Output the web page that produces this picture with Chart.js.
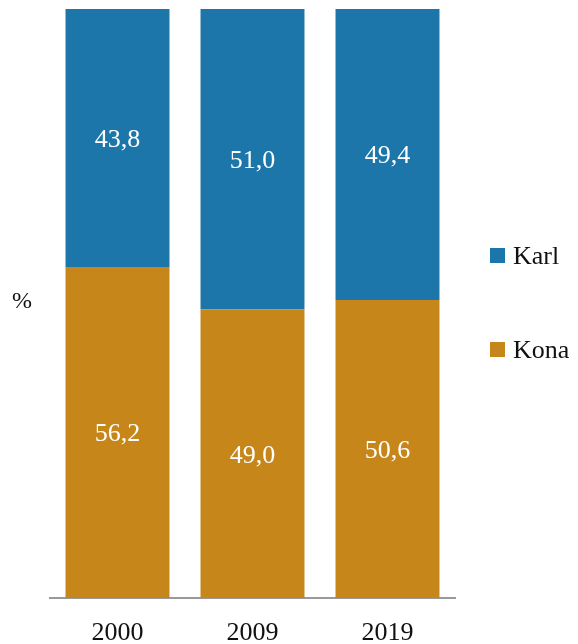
<!DOCTYPE html>
<html>
<head>
<meta charset="utf-8">
<script src="https://cdn.jsdelivr.net/npm/chart.js@4"></script>
<style>
    html, body { margin: 0; padding: 0; background: #fff; }
    #wrap { position: relative; width: 578px; height: 644px; }
    .legend-item { position: absolute; left: 490px; font: 26px 'Liberation Serif', serif; color: #111; white-space: nowrap; }
    .legend-item span.box { display: inline-block; width: 15px; height: 15px; margin-right: 8px; vertical-align: 1px; }
</style>
</head>
<body>
<div id="wrap">
    <canvas id="chart" width="578" height="644"></canvas>
    <div class="legend-item" style="top: 241px;"><span class="box" style="background:#1c76a9"></span>Karl</div>
    <div class="legend-item" style="top: 335px;"><span class="box" style="background:#c6861a"></span>Kona</div>
</div>
<script>
const years = ['2000', '2009', '2019'];
const karl = [43.8, 51.0, 49.4];
const kona = [56.2, 49.0, 50.6];

const COLORS = {
    karl: '#1c76a9',
    kona: '#c6861a',
    axis: '#999999',
    text: '#111111',
};
const FONT = "'Liberation Serif', serif";

// values inside the bars, comma as decimal separator
const barLabels = {
    id: 'barLabels',
    afterDatasetsDraw(chart) {
        const { ctx } = chart;
        ctx.save();
        ctx.fillStyle = '#ffffff';
        ctx.font = `26px ${FONT}`;
        ctx.textAlign = 'center';
        ctx.textBaseline = 'middle';
        chart.data.datasets.forEach((ds, i) => {
            chart.getDatasetMeta(i).data.forEach((bar, j) => {
                const mid = (bar.y + bar.base) / 2 + 2;
                ctx.fillText(ds.data[j].toFixed(1).replace('.', ','), bar.x, mid);
            });
        });
        // y axis title
        ctx.fillStyle = COLORS.text;
        ctx.font = `24px ${FONT}`;
        ctx.fillText('%', 22, 302);
        ctx.restore();
    },
};

new Chart(document.getElementById('chart'), {
    type: 'bar',
    data: {
        labels: years,
        datasets: [
            { label: 'Kona', data: kona, backgroundColor: COLORS.kona },
            { label: 'Karl', data: karl, backgroundColor: COLORS.karl },
        ],
    },
    options: {
        responsive: false,
        animation: false,
        layout: { padding: { left: 50, right: 123, top: 9, bottom: 0 } },
        categoryPercentage: 1,
        barPercentage: 0.77,
        plugins: {
            legend: { display: false },
            tooltip: { enabled: false },
        },
        scales: {
            x: {
                stacked: true,
                grid: { display: false },
                border: { display: true, color: COLORS.axis, width: 2 },
                ticks: { color: COLORS.text, font: { family: FONT, size: 26 }, padding: 12 },
                afterFit(scale) { scale.height = 46; },
            },
            y: {
                stacked: true,
                display: false,
                min: 0,
                max: 100,
            },
        },
    },
    plugins: [barLabels],
});
</script>
</body>
</html>
